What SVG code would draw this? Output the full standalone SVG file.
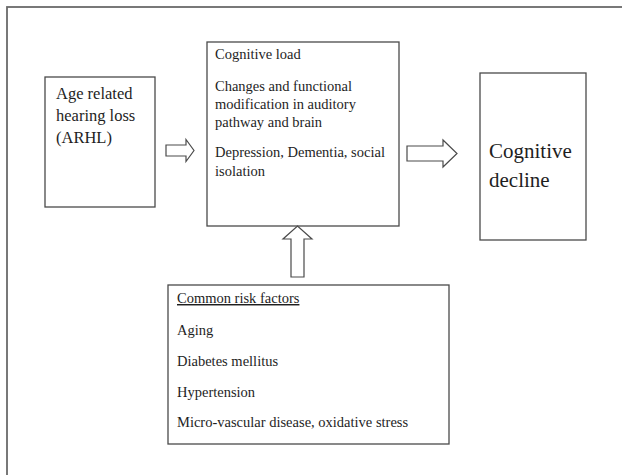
<svg xmlns="http://www.w3.org/2000/svg" width="622" height="475" viewBox="0 0 622 475">
<style>
.box{fill:#fff;stroke:#4a4a4a;stroke-width:1.3}
.arrow{fill:#fff;stroke:#4a4a4a;stroke-width:1.2;stroke-linejoin:miter}
text{font-family:"Liberation Serif","Times New Roman",serif;fill:#1e1e1e}
.t{font-size:14.5px}
.a{font-size:16.5px}
.d{font-size:21px}
</style>
<rect width="622" height="475" fill="#fff"/>
<rect x="7" y="7" width="700" height="600" fill="none" stroke="#6a6a6a" stroke-width="1.8"/>
<g id="arhl">
<rect class="box" x="45" y="77" width="110" height="130"/>
<text class="a" x="56" y="99">Age related</text>
<text class="a" x="56" y="121">hearing loss</text>
<text class="a" x="56" y="143">(ARHL)</text>
</g>
<g id="cognitive-load">
<rect class="box" x="207" y="42" width="192" height="184"/>
<text class="t" x="215" y="59">Cognitive load</text>
<text class="t" x="215" y="91">Changes and functional</text>
<text class="t" x="215" y="109">modification in auditory</text>
<text class="t" x="215" y="127">pathway and brain</text>
<text class="t" x="215" y="157">Depression, Dementia, social</text>
<text class="t" x="215" y="176">isolation</text>
</g>
<g id="cognitive-decline">
<rect class="box" x="480" y="73" width="106" height="167"/>
<text class="d" x="489" y="158">Cognitive</text>
<text class="d" x="489" y="187">decline</text>
</g>
<g id="risk-factors">
<rect class="box" x="168" y="285" width="281" height="159"/>
<text class="t" x="177" y="303" text-decoration="underline">Common risk factors</text>
<text class="t" x="177" y="335">Aging</text>
<text class="t" x="177" y="366">Diabetes mellitus</text>
<text class="t" x="177" y="397">Hypertension</text>
<text class="t" x="177" y="427">Micro-vascular disease, oxidative stress</text>
</g>
<g id="connectors">
<path class="arrow" d="M166,145 H186 V139.5 L194,150.5 L186,161.5 V156 H166 Z"/>
<path class="arrow" d="M407,146 H443 V140 L457,153.5 L443,167 V161 H407 Z"/>
<path class="arrow" d="M291,277 V239 H283 L297.5,226 L312,239 H304 V277 Z"/>
</g>
</svg>
